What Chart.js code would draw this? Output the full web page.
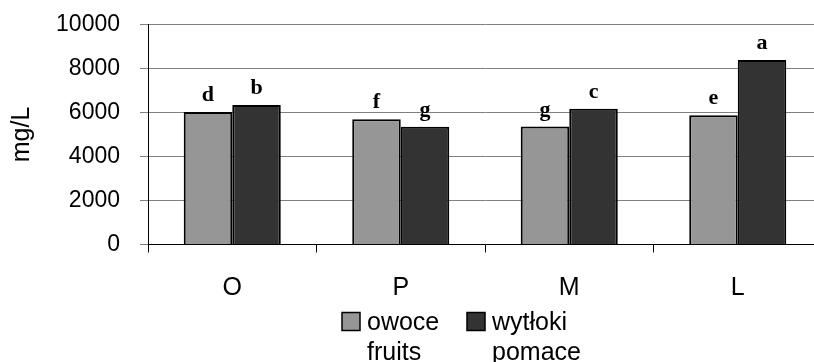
<!DOCTYPE html>
<html>
<head>
<meta charset="utf-8">
<script src="https://cdn.jsdelivr.net/npm/chart.js@4/dist/chart.umd.min.js"></script>
<style>
  html, body { margin: 0; padding: 0; background: #fff; overflow: hidden; }
  #wrap { position: relative; width: 822px; height: 362px; }
</style>
</head>
<body>
<div id="wrap"><canvas id="myChart"></canvas></div>
<script>
// data
const categories = ['O', 'P', 'M', 'L'];
const fruitValues = [6020, 5690, 5360, 5870];
const pomaceValues = [6340, 5355, 6170, 8390];
const fruitLetters = ['d', 'f', 'g', 'e'];
const pomaceLetters = ['b', 'g', 'c', 'a'];
const legendLines = [['owoce', 'fruits'], ['wytłoki', 'pomace']];
const yTicks = [0, 2000, 4000, 6000, 8000, 10000];

// letters above each bar
const letterPlugin = {
  id: 'letters',
  afterDatasetsDraw(chart) {
    const ctx = chart.ctx;
    const sets = [fruitLetters, pomaceLetters];
    ctx.save();
    ctx.font = 'bold 22px "Liberation Serif", "Times New Roman", serif';
    ctx.fillStyle = '#000';
    ctx.textAlign = 'center';
    ctx.textBaseline = 'alphabetic';
    sets.forEach((letters, i) => {
      chart.getDatasetMeta(i).data.forEach((bar, j) => {
        ctx.fillText(letters[j], bar.x, bar.y - 11);
      });
    });
    ctx.restore();
  }
};

// two line legend at the bottom
const legendPlugin = {
  id: 'twoLineLegend',
  afterDraw(chart) {
    const ctx = chart.ctx;
    const left = chart.chartArea.left;
    const xs = [left + 194, left + 319];
    const boxTop = 312.5;
    ctx.save();
    ctx.font = '25px "Liberation Sans", Arial, sans-serif';
    ctx.textBaseline = 'alphabetic';
    chart.data.datasets.forEach((ds, i) => {
      ctx.fillStyle = ds.backgroundColor;
      ctx.strokeStyle = '#000';
      ctx.lineWidth = 1.5;
      ctx.fillRect(xs[i], boxTop, 18, 18);
      ctx.strokeRect(xs[i], boxTop, 18, 18);
      ctx.fillStyle = '#000';
      legendLines[i].forEach((line, k) => {
        ctx.fillText(line, xs[i] + 25, 330 + k * 30);
      });
    });
    ctx.restore();
  }
};

const ctx = document.getElementById('myChart');

new Chart(ctx, {
  type: 'bar',
  data: {
    labels: categories,
    datasets: [{
      label: 'owoce fruits',
      data: fruitValues,
      backgroundColor: '#969696',
      borderColor: '#000',
      borderWidth: 2,
      borderSkipped: 'bottom'
    }, {
      label: 'wytłoki pomace',
      data: pomaceValues,
      backgroundColor: '#333333',
      borderColor: '#000',
      borderWidth: 2,
      borderSkipped: 'bottom'
    }]
  },
  options: {
    responsive: true,
    maintainAspectRatio: false,
    animation: false,
    devicePixelRatio: 1,
    categoryPercentage: 0.576,
    barPercentage: 1,
    layout: { padding: { top: 24.5, left: 0, right: 0, bottom: 38.5 } },
    plugins: {
      legend: { display: false },
      tooltip: { enabled: false }
    },
    scales: {
      x: {
        grid: { display: true, drawOnChartArea: false, color: '#000', tickLength: 8 },
        border: { color: '#000', width: 1 },
        ticks: {
          color: '#000',
          padding: 20.5,
          font: { family: '"Liberation Sans", Arial, sans-serif', size: 25 }
        }
      },
      y: {
        min: 0,
        max: 10000,
        afterBuildTicks(scale) { scale.ticks = yTicks.map(v => ({ value: v })); },
        afterFit(scale) {
          scale.width = 148;
          scale.paddingTop = 0;
          scale.paddingBottom = 0;
        },
        grid: { color: '#808080', tickLength: 8 },
        border: { color: '#000', width: 1 },
        ticks: {
          color: '#000',
          padding: 20,
          callback: v => String(v),
          font: { family: '"Liberation Sans", Arial, sans-serif', size: 23 }
        },
        title: {
          display: true,
          text: 'mg/L',
          color: '#000',
          padding: { top: 7, bottom: 0 },
          font: { family: '"Liberation Sans", Arial, sans-serif', size: 25 }
        }
      }
    }
  },
  plugins: [letterPlugin, legendPlugin]
});
</script>
</body>
</html>
